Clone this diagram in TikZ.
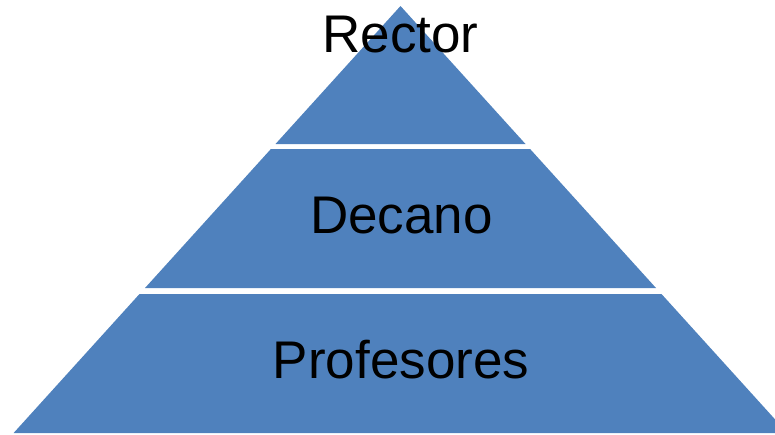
\documentclass[tikz,border=0pt]{standalone}
\usepackage{fontspec}
\setmainfont{Liberation Sans}
\begin{document}
\begin{tikzpicture}[x=1pt,y=-1pt]
  \definecolor{level}{HTML}{4F81BD}
  \tikzset{levellabel/.style={anchor=base,inner sep=0pt,font=\fontsize{53}{60}\selectfont}}
  \useasboundingbox (0,0) rectangle (775,434);
  \clip (0,0) rectangle (775,434);
  \fill [level] (400.5,6) -- (525.5,144) -- (275.5,144) -- cycle;
  \fill [level] (270.9,149) -- (530.1,149) -- (656,288) -- (145,288) -- cycle;
  \fill [level] (139.5,294) -- (661.5,294) -- (787.4,433) -- (13.6,433) -- cycle;
  \node [levellabel] (rector) at (400.5,52) {Rector};
  \node [levellabel] (decano) at (401.5,233) {Decano};
  \node [levellabel] (profesores) at (401,378) {Profesores};
\end{tikzpicture}
\end{document}
